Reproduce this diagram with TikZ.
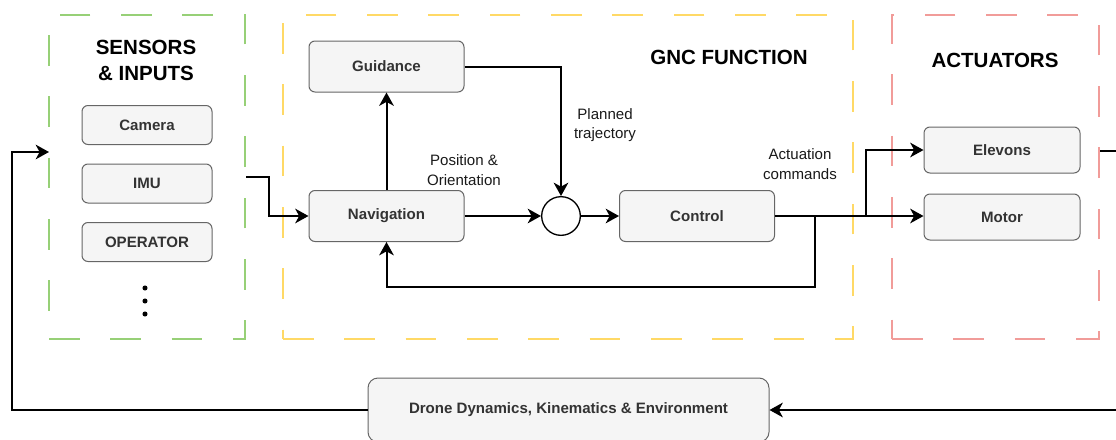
\documentclass[tikz,border=0pt]{standalone}
\usepackage{fontspec}
\setmainfont{Liberation Sans}
\usetikzlibrary{positioning,arrows.meta}
\definecolor{senseGreen}{HTML}{97D077}
\definecolor{gncYellow}{HTML}{FFD966}
\definecolor{actRed}{HTML}{F19C99}
\definecolor{boxBg}{HTML}{F5F5F5}
\definecolor{boxLine}{HTML}{666666}
\definecolor{boxInk}{HTML}{333333}

\begin{document}
\begin{tikzpicture}[
  x=0.75pt, y=-0.75pt,
  font=\fontsize{11.3}{13}\selectfont,
  >={Stealth[length=10pt,width=11pt,inset=3pt]},
  blk/.style={rounded corners=4.5pt, draw=boxLine, fill=boxBg, line width=0.75pt, text=boxInk,
    font=\fontsize{11.3}{13}\selectfont\bfseries, minimum width=97.5pt, minimum height=29.25pt, inner sep=0pt},
  big/.style={blk, minimum width=116.25pt, minimum height=38.25pt},
  grp/.style={dash pattern=on 23pt off 23pt, line width=1.5pt, inner sep=0pt, minimum height=243pt},
  ttl/.style={font=\fontsize{15.4}{19.5}\selectfont\bfseries, align=center},
  flow/.style={->, line width=1.5pt},
  lab/.style={align=center, text=black!90, font=\fontsize{11.3}{14.5}\selectfont},
]
\useasboundingbox (0,0) rectangle (1116,439);

% =========================== GROUPS ===========================
\node[grp, draw=senseGreen, minimum width=147pt]    (sens) at (147,177) {};
\node[grp, draw=gncYellow,  minimum width=427.5pt]  (gnc)  at (568,177) {};
\node[grp, draw=actRed,     minimum width=155.25pt] (act)  at (995.5,177) {};

\node[ttl] (sensT) at (146,60) {SENSORS\\\& INPUTS};
\node[ttl] (gncT)  at (729,57) {GNC FUNCTION};
\node[ttl] (actT)  at (995,60) {ACTUATORS};

% =========================== SENSORS ===========================
\node[blk] (cam) at (147,125)   {Camera};
\node[blk] (imu) at (147,183.5) {IMU};
\node[blk] (opr) at (147,242)   {OPERATOR};
\foreach \y in {288,301,314}
  \fill (145,\y) circle[radius=1.9pt];

% =========================== GNC ===========================
\node[big] (guid) at (386.5,66.5) {Guidance};
\node[big] (nav)  at (386.5,216)  {Navigation};
\node[draw, circle, line width=1pt, fill=white, minimum size=29pt, inner sep=0pt] (sum) at (561,216) {};
\node[big] (ctrl) at (697,216)    {Control};

\node[lab] (posL)  at (464,170) {Position \&\\Orientation};
\node[lab] (planL) at (605,125) {Planned\\trajectory};
\node[lab] (actL)  at (800,164) {Actuation\\commands};

% =========================== ACTUATORS ===========================
\node[big, minimum width=117pt, minimum height=34.5pt] (elev) at (1002,150) {Elevons};
\node[big, minimum width=117pt, minimum height=34.5pt] (mot)  at (1002,217) {Motor};

% =========================== PLANT ===========================
\node[blk, rounded corners=7.5pt, minimum width=300.75pt, minimum height=48pt] (drone)
  at (568.5,410) {Drone Dynamics, Kinematics \& Environment};

\coordinate (outTop) at (1116,151);
\coordinate (outBot) at (1116,410);
\coordinate (sensIn) at (49,152);

% =========================== CONNECTORS ===========================
\draw[flow] (sens.east) -- ++(23,0) |- (nav.west);
\draw[flow] (nav.north) -- (guid.south);
\draw[flow] (guid.east) -| (sum.north);
\draw[flow] (nav.east) -- (sum.west);
\draw[flow] (sum.east) -- (ctrl.west);
\draw[flow] (ctrl.east) -- (ctrl.east -| mot.west);
\draw[flow] (ctrl.east) -- ++(91,0) |- (elev.west);
\draw[flow] (ctrl.east) -- ++(40,0) -- ++(0,71) -| (nav.south);
\draw[line width=1.5pt] (act.east |- outTop) -- (outTop);
\draw[flow] (outBot) -- (drone.east);
\draw[flow] (drone.west) -- ++(-356,0) |- (sensIn);

\end{tikzpicture}
\end{document}
